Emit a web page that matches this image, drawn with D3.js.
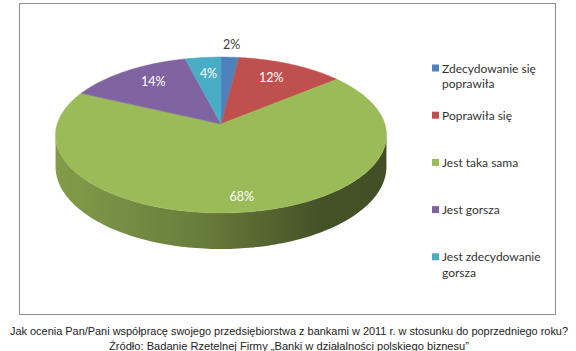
<!DOCTYPE html>
<html>
<head>
<meta charset="utf-8">
<script src="https://cdn.jsdelivr.net/npm/d3@7"></script>
<style>
  html, body { margin: 0; padding: 0; background: #fff; }
  svg { display: block; }
</style>
</head>
<body>
<svg id="chart" width="576" height="351"></svg>
<script>
const categories = ['Zdecydowanie się poprawiła', 'Poprawiła się', 'Jest taka sama', 'Jest gorsza', 'Jest zdecydowanie gorsza']
const legendLines = [['Zdecydowanie się', 'poprawiła'], ['Poprawiła się'], ['Jest taka sama'], ['Jest gorsza'], ['Jest zdecydowanie', 'gorsza']]
const values = [2, 12, 68, 14, 4]
const colors = ['#4F81BD', '#C0504D', '#9BBB59', '#8064A2', '#4BACC6']
const captionLines = [
  'Jak ocenia Pan/Pani współpracę swojego przedsiębiorstwa z bankami w 2011 r. w stosunku do poprzedniego roku?',
  'Źródło: Badanie Rzetelnej Firmy „Banki w działalności polskiego biznesu”'
]

const width = 576
const height = 351
const svg = d3.select('#chart')

// ------------------
// Frame
// ------------------
svg.append('rect')
  .attr('x', 19.5)
  .attr('y', 3.5)
  .attr('width', 536)
  .attr('height', 311)
  .attr('fill', '#fff')
  .attr('stroke', '#8e8e8e')
  .attr('stroke-width', 1)

// ------------------
// 3D pie projection (tilted disc with perspective)
// ------------------
const cx = 221
const cy = 124
const rx = 163.8
const ry = 76.4
const persp = 0.141
const thickness = 31

function project(theta, r = 1, drop = 0) {
  const d = 1 + persp * r * Math.cos(theta)
  return [
    cx + rx * r * Math.sin(theta) / d,
    cy - ry * r * Math.cos(theta) / d + drop / d
  ]
}

function sample(a0, a1, r = 1, drop = 0) {
  const n = Math.max(2, Math.ceil(Math.abs(a1 - a0) / 0.02))
  return d3.range(n + 1).map(i => project(a0 + (a1 - a0) * i / n, r, drop))
}

const pie = d3.pie().sort(null).value(d => d)
const arcs = pie(values)
const total = d3.sum(values)

const defs = svg.append('defs')
const line = d3.line().curve(d3.curveLinearClosed)

// visible side lies between the silhouette angles
const sideA = Math.acos(-persp)
const sideB = 2 * Math.PI - sideA

const gSide = svg.append('g')
arcs.forEach((a, i) => {
  const s = Math.max(a.startAngle, sideA)
  const e = Math.min(a.endAngle, sideB)
  if (e <= s) return
  const base = d3.color(colors[i])
  const grad = defs.append('linearGradient')
    .attr('id', 'side' + i)
    .attr('gradientUnits', 'userSpaceOnUse')
    .attr('x1', cx - rx * 1.01).attr('x2', cx + rx * 1.01)
    .attr('y1', 0).attr('y2', 0)
  const stops = [[0, 0.5], [0.45, 1.15], [0.8, 2.3], [1, 2.4]]
  stops.forEach(([o, k]) => {
    grad.append('stop').attr('offset', o).attr('stop-color', base.darker(k).formatHex())
  })
  const pts = sample(s, e).concat(sample(e, s, 1, thickness))
  gSide.append('path')
    .attr('d', line(pts))
    .attr('fill', `url(#side${i})`)
})

// top face slices
const gTop = svg.append('g')
arcs.forEach((a, i) => {
  const pts = [project(0, 0)].concat(sample(a.startAngle, a.endAngle))
  gTop.append('path')
    .attr('d', line(pts))
    .attr('fill', colors[i])
    .attr('stroke', colors[i])
    .attr('stroke-width', 0.5)
})

// ------------------
// Data labels
// ------------------
arcs.forEach((a, i) => {
  const frac = a.data / total
  const mid = (a.startAngle + a.endAngle) / 2
  const outside = frac < 0.03
  const r = outside ? 1.22 : 0.65 + 0.35 * frac
  const [x, y] = project(mid, r)
  svg.append('text')
    .attr('x', x)
    .attr('y', outside ? y : y - 4)
    .attr('text-anchor', 'middle')
    .attr('dominant-baseline', 'central')
    .attr('font-family', 'Lato, "Open Sans", sans-serif')
    .attr('font-size', 12.5)
    .attr('fill', outside ? '#404040' : '#fff')
    .text(Math.round(frac * 100) + '%')
})

// ------------------
// Legend
// ------------------
const legend = svg.append('g')
  .attr('transform', 'translate(432, 68)')

legendLines.forEach((lines, i) => {
  const item = legend.append('g')
    .attr('transform', `translate(0, ${i * 47.2})`)
  item.append('rect')
    .attr('x', 0)
    .attr('y', -3.5)
    .attr('width', 7)
    .attr('height', 7)
    .attr('fill', colors[i])
  lines.forEach((t, j) => {
    item.append('text')
      .attr('x', 10)
      .attr('y', j * 15.5)
      .attr('dominant-baseline', 'central')
      .attr('font-family', 'Lato, "Open Sans", sans-serif')
      .attr('font-size', 12)
      .attr('fill', '#333')
      .text(t)
  })
})

// ------------------
// Caption
// ------------------
const captionWidths = [558, 360]
captionLines.forEach((t, i) => {
  svg.append('text')
    .attr('x', width / 2 + 1)
    .attr('y', 331 + i * 14.5)
    .attr('text-anchor', 'middle')
    .attr('dominant-baseline', 'central')
    .attr('font-family', '"Liberation Sans", Arial, sans-serif')
    .attr('font-size', 10.8)
    .attr('fill', '#222')
    .attr('textLength', captionWidths[i])
    .attr('lengthAdjust', 'spacingAndGlyphs')
    .text(t)
})
</script>
</body>
</html>
